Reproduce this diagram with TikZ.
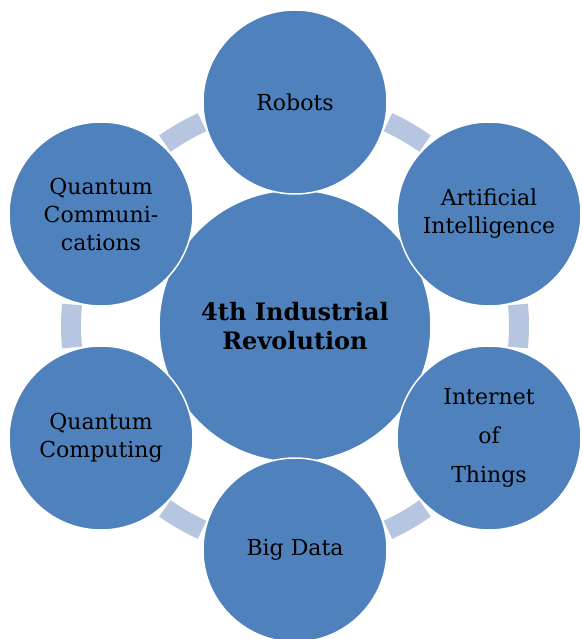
\documentclass[tikz,border=0pt]{standalone}
\usepackage{fontspec}
\setmainfont{DejaVu Serif}
\usetikzlibrary{positioning}

\definecolor{petalblue}{HTML}{4F81BD}
\definecolor{linkblue}{HTML}{B7C6E0}

\tikzset{
  hubnode/.style={circle, fill=petalblue, draw=white, line width=1.5pt,
    minimum size=272pt, inner sep=0pt, align=center, font=\fontsize{24}{29}\selectfont\bfseries},
  petal/.style={circle, fill=petalblue, draw=white, line width=1.5pt,
    minimum size=184pt, inner sep=0pt, align=center, font=\fontsize{22}{28}\selectfont},
  link/.style={draw=linkblue, line width=20pt}
}

\begin{document}
\begin{tikzpicture}[x=1pt, y=1pt]
\useasboundingbox (-295,-313) rectangle (287,326);

% ring links between the petals
\foreach \a in {0,60,...,300}
  \draw[link] (\a+5.5:224) arc[start angle=\a+5.5, end angle=\a-5.5, radius=224];

\node[hubnode] (hub) at (0,0) {4th Industrial\\Revolution};

\node[petal] (robots) at (90:224) {Robots};
\node[petal] (ai) at (30:224) {Artificial\\Intelligence};
\node[petal, font=\fontsize{22}{39}\selectfont] (iot) at (-30:224) {Internet\\of\\Things};
\node[petal] (bigdata) at (-90:224) {Big Data};
\node[petal] (qcomp) at (210:224) {Quantum\\Computing};
\node[petal] (qcomm) at (150:224) {Quantum\\Communi-\\cations};
\end{tikzpicture}
\end{document}
